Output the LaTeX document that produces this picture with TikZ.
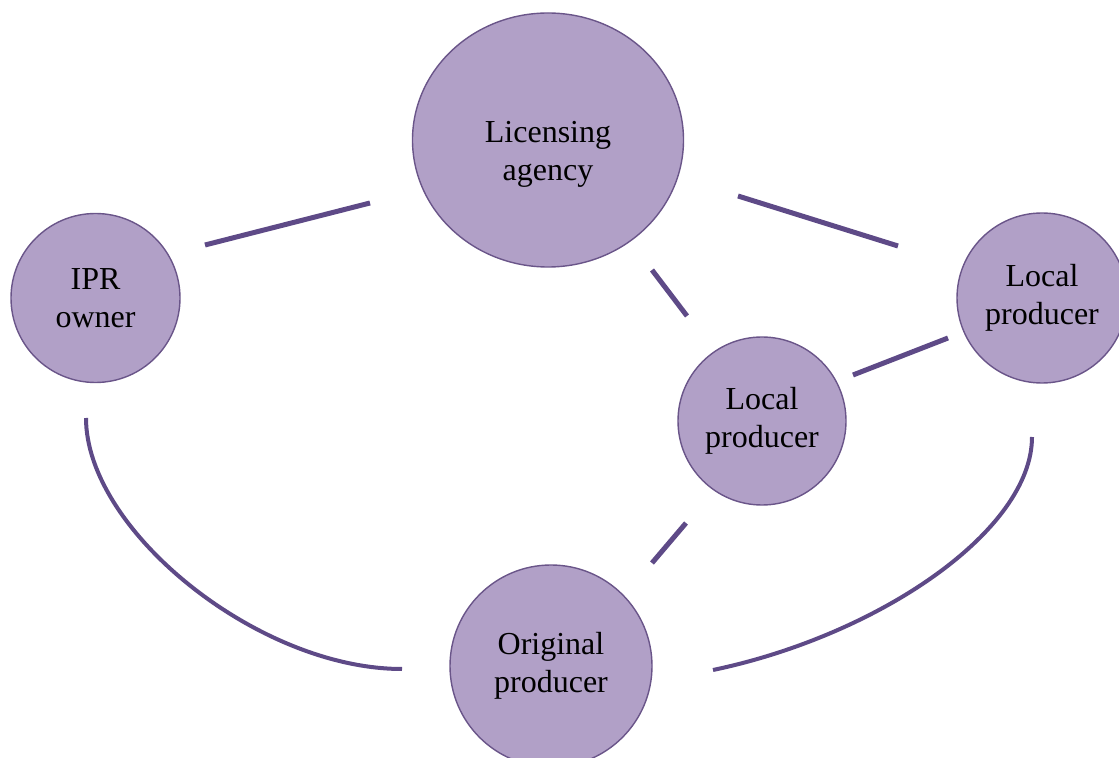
\documentclass[tikz,border=0pt]{standalone}
\usepackage{fontspec}
\setmainfont{Liberation Serif}
\usetikzlibrary{shapes.geometric}
\definecolor{bubblefill}{HTML}{B1A0C7}
\definecolor{bubbleline}{HTML}{6A5589}
\definecolor{linkcolor}{HTML}{5E4A87}
\tikzstyle{bubble}=[circle,draw=bubbleline,fill=bubblefill,line width=0.7pt,inner sep=0pt,align=center,font=\fontsize{16}{19}\selectfont]
\tikzstyle{link} = [draw,line width=2.5pt,linkcolor]
\tikzstyle{curvelink} = [draw,line width=2pt,linkcolor]

\begin{document}
\begin{tikzpicture}[x=0.5pt,y=-0.5pt]
				\useasboundingbox (0,0) rectangle (1119,758);
				\clip (0,0) rectangle (1119,758);

				% First we draw the actors
				\node[bubble,ellipse,minimum width=135.5pt,minimum height=127pt,label={[align=center,font=\fontsize{16}{19}\selectfont,yshift=-7pt]center:Licensing\\agency}] (agency) at (548,140) {};
				\foreach \pos/\name/\size/\label in {{(95.5,298)/ipr/84.5pt/{IPR\\owner}}, {(1042,298)/localA/85pt/{Local\\producer}}, {(762,421)/localB/84pt/{Local\\producer}}, {(551,666)/original/101pt/{Original\\producer}}}
				\node[bubble,minimum size=\size] (\name) at \pos {\label};

				% Free ends of the links
				\foreach \pos/\name in {{(205,245)/iprE}, {(370,203)/agencyW}, {(738,196)/agencyE}, {(898,246)/localAW}, {(652,270)/agencyS}, {(687,316)/localBN}, {(853,375)/localBE}, {(948,338)/localAS}, {(686,523)/localBS}, {(652,563)/originalN}, {(86,418)/iprS}, {(402,669)/originalW}, {(1032,437)/localAB}, {(713,670)/originalE}}
				\node[coordinate] (\name) at \pos {};

				% Straight links
				\foreach \source/ \dest in {iprE/agencyW, agencyE/localAW, agencyS/localBN, localBE/localAS, localBS/originalN}
				\path[link] (\source) -- (\dest);

				% Curved links round the bottom
				\path[curvelink] (iprS) .. controls (86,530) and (258,669) .. (originalW);
				\path[curvelink] (localAB) .. controls (1032,530) and (880,635) .. (originalE);
			\end{tikzpicture}
\end{document}
